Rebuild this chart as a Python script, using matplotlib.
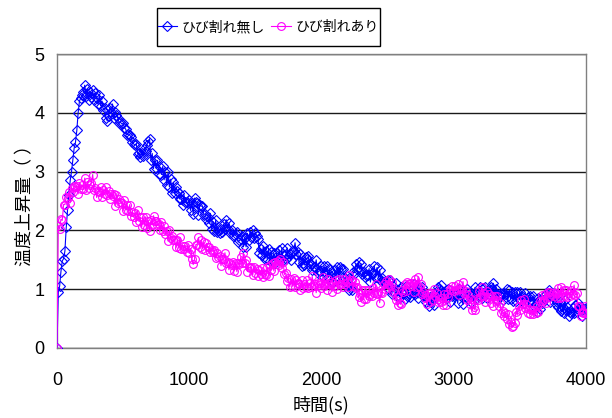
import numpy as np
import matplotlib
matplotlib.use("Agg")
import matplotlib.pyplot as plt
from matplotlib import font_manager
from matplotlib.patches import Rectangle

# Measurement time (s), sampled every 10 s
time_s = np.arange(0, 4001, 10)

# Temperature rise, specimen without crack
rise_no_crack = [
    0.00, 0.95, 1.05, 1.30, 1.48, 1.52, 1.65, 2.05, 2.35, 2.60, 2.85, 3.00, 3.20, 3.40, 3.50, 3.70, 4.00, 4.20, 4.25, 4.30,
    4.35, 4.47, 4.28, 4.40, 4.22, 4.36, 4.27, 4.38, 4.22, 4.33, 4.25, 4.15, 4.30, 4.12, 4.20, 4.05, 4.08, 3.92, 3.86, 3.95,
    4.09, 4.02, 4.15, 3.92, 4.02, 3.96, 3.91, 3.83, 3.84, 3.81, 3.82, 3.75, 3.72, 3.63, 3.64, 3.62, 3.59, 3.50, 3.47, 3.45,
    3.47, 3.30, 3.31, 3.24, 3.31, 3.26, 3.38, 3.35, 3.46, 3.52, 3.56, 3.19, 3.31, 3.05, 3.20, 3.06, 3.19, 2.96, 3.07, 2.95,
    3.09, 2.86, 2.99, 2.78, 2.99, 2.74, 2.87, 2.63, 2.82, 2.63, 2.74, 2.67, 2.64, 2.53, 2.54, 2.43, 2.61, 2.49, 2.49, 2.47,
    2.52, 2.34, 2.47, 2.28, 2.55, 2.48, 2.47, 2.27, 2.44, 2.41, 2.42, 2.27, 2.28, 2.19, 2.22, 2.12, 2.29, 2.02, 2.15, 1.99,
    2.17, 1.97, 2.01, 1.96, 2.03, 1.98, 2.11, 2.03, 2.18, 2.03, 2.12, 1.95, 2.00, 1.91, 1.92, 1.94, 1.97, 1.80, 1.83, 1.85,
    1.91, 1.72, 1.87, 1.72, 1.95, 1.84, 1.98, 1.88, 2.00, 1.87, 1.96, 1.91, 1.86, 1.61, 1.68, 1.58, 1.73, 1.52, 1.65, 1.51,
    1.69, 1.48, 1.63, 1.48, 1.61, 1.44, 1.61, 1.51, 1.66, 1.51, 1.70, 1.50, 1.56, 1.51, 1.70, 1.54, 1.59, 1.50, 1.65, 1.65,
    1.79, 1.60, 1.63, 1.46, 1.59, 1.40, 1.45, 1.41, 1.54, 1.51, 1.56, 1.39, 1.42, 1.33, 1.38, 1.38, 1.50, 1.28, 1.31, 1.31,
    1.39, 1.22, 1.39, 1.30, 1.39, 1.20, 1.35, 1.13, 1.28, 1.13, 1.32, 1.23, 1.38, 1.17, 1.38, 1.34, 1.35, 1.18, 1.19, 1.09,
    1.17, 0.98, 1.03, 0.98, 1.29, 1.28, 1.43, 1.35, 1.47, 1.33, 1.43, 1.25, 1.30, 1.21, 1.24, 1.24, 1.35, 1.12, 1.27, 1.27,
    1.39, 1.20, 1.37, 1.20, 1.33, 1.14, 1.19, 1.13, 1.12, 1.11, 1.16, 1.01, 1.16, 0.91, 1.06, 0.94, 1.10, 0.88, 0.99, 0.87,
    1.03, 0.93, 0.93, 0.84, 1.05, 0.88, 0.92, 0.86, 0.98, 0.94, 1.09, 0.91, 0.95, 0.85, 1.02, 0.98, 1.04, 0.88, 0.89, 0.79,
    0.86, 0.71, 0.86, 0.78, 0.89, 0.73, 0.91, 0.89, 1.04, 1.00, 1.07, 0.91, 0.96, 0.87, 0.93, 0.85, 1.00, 0.78, 0.90, 0.88,
    0.96, 0.90, 0.90, 0.76, 1.00, 0.90, 0.91, 0.74, 0.88, 0.86, 1.01, 0.93, 0.95, 0.78, 0.88, 0.91, 1.03, 0.83, 0.88, 0.89,
    1.03, 0.85, 1.02, 0.93, 1.03, 0.85, 0.99, 0.91, 1.03, 1.00, 1.10, 0.94, 1.00, 0.82, 0.91, 0.89, 0.91, 0.82, 0.94, 0.91,
    1.00, 0.83, 0.99, 0.83, 0.96, 0.80, 0.96, 0.80, 0.95, 0.84, 0.95, 0.81, 0.87, 0.77, 0.93, 0.81, 0.86, 0.78, 0.89, 0.80,
    0.89, 0.71, 0.74, 0.61, 0.85, 0.67, 0.83, 0.76, 0.88, 0.84, 0.92, 0.88, 0.99, 0.78, 0.88, 0.89, 0.93, 0.75, 0.78, 0.69,
    0.79, 0.63, 0.67, 0.60, 0.82, 0.65, 0.69, 0.54, 0.61, 0.59, 0.68, 0.60, 0.73, 0.62, 0.77, 0.65, 0.70, 0.55, 0.67, 0.66,
    0.68,
]

# Temperature rise, specimen with crack
rise_crack = [
    0.00, 2.08, 2.03, 2.19, 2.17, 2.44, 2.44, 2.57, 2.55, 2.66, 2.47, 2.72, 2.66, 2.75, 2.73, 2.76, 2.62, 2.81, 2.70, 2.77,
    2.70, 2.89, 2.68, 2.83, 2.72, 2.78, 2.81, 2.95, 2.69, 2.72, 2.56, 2.67, 2.65, 2.73, 2.56, 2.68, 2.62, 2.73, 2.60, 2.67,
    2.54, 2.62, 2.58, 2.62, 2.42, 2.60, 2.47, 2.54, 2.48, 2.47, 2.33, 2.52, 2.35, 2.44, 2.33, 2.44, 2.24, 2.31, 2.23, 2.30,
    2.15, 2.34, 2.16, 2.22, 2.05, 2.23, 2.09, 2.23, 2.04, 2.16, 1.99, 2.17, 2.09, 2.25, 2.16, 2.16, 2.09, 2.11, 2.00, 2.14,
    1.99, 2.07, 1.94, 1.99, 1.82, 2.00, 1.87, 1.91, 1.84, 1.84, 1.71, 1.83, 1.70, 1.88, 1.68, 1.74, 1.69, 1.73, 1.64, 1.76,
    1.61, 1.69, 1.52, 1.42, 1.51, 1.76, 1.76, 1.88, 1.71, 1.83, 1.69, 1.80, 1.67, 1.78, 1.71, 1.72, 1.63, 1.66, 1.64, 1.67,
    1.53, 1.62, 1.55, 1.56, 1.40, 1.51, 1.51, 1.62, 1.44, 1.47, 1.33, 1.45, 1.41, 1.46, 1.31, 1.45, 1.30, 1.45, 1.42, 1.55,
    1.45, 1.61, 1.44, 1.49, 1.30, 1.38, 1.36, 1.38, 1.24, 1.37, 1.27, 1.35, 1.23, 1.33, 1.25, 1.36, 1.20, 1.26, 1.24, 1.37,
    1.23, 1.41, 1.32, 1.44, 1.31, 1.47, 1.43, 1.48, 1.41, 1.51, 1.36, 1.47, 1.25, 1.28, 1.14, 1.19, 1.04, 1.17, 1.05, 1.19,
    1.04, 1.15, 1.10, 1.09, 0.99, 1.15, 1.02, 1.08, 1.03, 1.16, 1.02, 1.10, 1.04, 1.22, 1.06, 1.09, 0.94, 1.10, 1.07, 1.10,
    1.02, 1.21, 1.06, 1.09, 0.99, 1.17, 1.08, 1.12, 0.96, 1.11, 1.05, 1.16, 1.00, 1.17, 1.08, 1.09, 1.03, 1.18, 1.08, 1.13,
    1.04, 1.24, 1.16, 1.16, 1.06, 1.13, 1.02, 1.04, 0.86, 0.92, 0.79, 0.99, 0.83, 0.99, 0.83, 0.98, 0.89, 0.91, 0.88, 1.02,
    0.93, 1.09, 0.91, 0.94, 0.77, 0.95, 0.94, 1.08, 1.01, 1.14, 1.08, 1.18, 1.05, 1.13, 0.96, 0.99, 0.82, 0.86, 0.73, 0.77,
    0.74, 0.99, 0.96, 1.08, 0.97, 1.13, 1.09, 1.11, 1.05, 1.10, 0.96, 1.17, 1.03, 1.21, 1.06, 1.09, 0.92, 0.96, 0.85, 0.90,
    0.75, 0.94, 0.78, 0.94, 0.82, 1.00, 0.89, 0.94, 0.79, 0.84, 0.78, 0.85, 0.73, 0.92, 0.73, 0.91, 0.86, 1.01, 0.99, 1.05,
    0.97, 1.05, 0.98, 1.09, 0.90, 1.00, 1.01, 1.13, 0.94, 0.97, 0.81, 0.90, 0.75, 0.83, 0.64, 0.69, 0.65, 0.83, 0.82, 0.97,
    0.87, 1.04, 0.89, 0.94, 0.78, 0.97, 0.87, 0.91, 0.76, 0.89, 0.71, 0.89, 0.82, 0.88, 0.71, 0.76, 0.60, 0.63, 0.55, 0.60,
    0.50, 0.58, 0.41, 0.44, 0.35, 0.37, 0.43, 0.62, 0.56, 0.71, 0.65, 0.82, 0.75, 0.83, 0.68, 0.74, 0.60, 0.66, 0.57, 0.65,
    0.57, 0.65, 0.60, 0.71, 0.62, 0.80, 0.77, 0.90, 0.81, 0.92, 0.76, 0.95, 0.87, 0.96, 0.90, 0.94, 0.89, 0.93, 0.85, 1.02,
    0.85, 1.04, 0.86, 0.99, 0.89, 0.98, 0.87, 0.94, 0.88, 0.99, 0.91, 1.07, 0.90, 0.93, 0.71, 0.72, 0.54, 0.61, 0.59, 0.72,
    0.60,
]

series_labels = ["ひび割れ無し", "ひび割れあり"]
x_ticks = [0, 1000, 2000, 3000, 4000]
y_ticks = [0, 1, 2, 3, 4, 5]
x_label = "時間(s)"
y_label = "温度上昇量（ ）"

installed = {f.name for f in font_manager.fontManager.ttflist}
num_font = "Liberation Sans Narrow" if "Liberation Sans Narrow" in installed else "Liberation Sans"
jp_font = ["Noto Sans CJK JP", "DejaVu Sans"]

W, H = 612, 418
fig = plt.figure(figsize=(W / 100, H / 100), dpi=100)
ax = fig.add_axes([0.0931, 0.1675, 0.8644, 0.7033])

ax.plot(time_s, rise_no_crack, color="#0000FF", lw=0.8, marker="D", ms=5.0,
        mfc="none", mec="#0000FF", mew=0.8, label=series_labels[0], zorder=3)
ax.plot(time_s, rise_crack, color="#FF00FF", lw=0.8, marker="o", ms=5.6,
        mfc="none", mec="#FF00FF", mew=0.8, label=series_labels[1], zorder=4)

ax.set_xlim(0, 4000)
ax.set_ylim(0, 5)
ax.set_xticks(x_ticks)
ax.set_yticks(y_ticks)
ax.tick_params(axis="both", length=0, labelsize=13)
ax.tick_params(axis="x", pad=17)
ax.tick_params(axis="y", pad=9)
for lab in ax.get_xticklabels() + ax.get_yticklabels():
    lab.set_fontfamily(num_font)

ax.yaxis.grid(True, color="#1a1a1a", lw=1.0)
ax.set_axisbelow(True)
for sp in ax.spines.values():
    sp.set_color("#808080")
    sp.set_linewidth(1.0)

ax.set_xlabel(x_label, fontsize=13, family=jp_font, labelpad=5)
ax.set_ylabel(y_label, fontsize=13, family=jp_font, labelpad=0)

# Legend entries in one row, with a separate box drawn around them
leg = fig.legend(loc="center", bbox_to_anchor=(268 / W, 1 - 27 / H), ncol=2,
                 prop={"family": jp_font, "size": 10}, frameon=False,
                 handlelength=1.4, handletextpad=0.3, columnspacing=0.5,
                 borderpad=0.2)
fig.patches.append(Rectangle((157 / W, 1 - 46 / H), 223 / W, 38 / H,
                             transform=fig.transFigure, fill=False,
                             edgecolor="black", lw=1.0, zorder=5))

fig.savefig("out.png", dpi=100)
